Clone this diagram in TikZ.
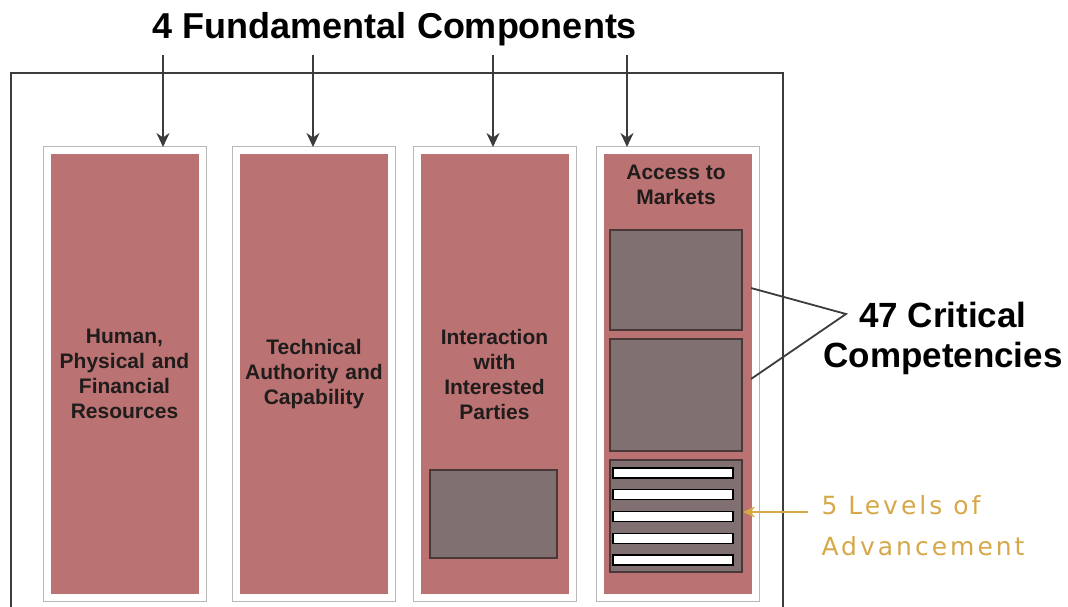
\documentclass[tikz,border=0pt]{standalone}
\usepackage{fontspec}
\setmainfont{Liberation Sans}
\newfontfamily\lvlfont[LetterSpace=12]{DejaVu Sans}
\usetikzlibrary{positioning,arrows.meta}
\definecolor{colfill}{RGB}{186,114,114}
\definecolor{boxfill}{RGB}{128,112,113}
\definecolor{boxedge}{RGB}{72,56,56}
\definecolor{txtdark}{RGB}{32,28,28}
\definecolor{lvlgold}{RGB}{214,168,72}
\definecolor{framegray}{RGB}{60,60,60}

\begin{document}
\begin{tikzpicture}[x=1pt,y=-1pt,
    col/.style={fill=colfill, draw=white, line width=7pt,
        preaction={draw=black!28, line width=9pt},
        minimum width=155pt, minimum height=447pt, inner sep=0pt,
        text width=148pt, align=center, text=txtdark,
        font=\bfseries\fontsize{21}{25}\selectfont},
    cbox/.style={fill=boxfill, draw=boxedge, line width=1.8pt, inner sep=0pt},
    bar/.style={fill=white, draw=black, line width=1.4pt, inner sep=0pt,
        minimum width=120pt, minimum height=10pt},
    fundarrow/.style={draw=framegray, line width=2.6pt,
        -{Stealth[length=14pt,width=13pt]}},
    pointer/.style={draw=framegray, line width=1.8pt},
    goldarrow/.style={draw=lvlgold, line width=2.4pt,
        -{Stealth[length=12pt,width=11pt]}}]
        \useasboundingbox (0,0) rectangle (1068,607);

        \draw[framegray, line width=1.2pt] (11,607) -- (11,73) -- (783,73) -- (783,607);

        \node[font=\bfseries\fontsize{36}{40}\selectfont] (T) at (395,29)
        {4 Fundamental Components};

        \begin{scope}
            \node[col] (C1) at (124.5,374)
            {Human,\\Physical and\\Financial\\Resources};
            \node[col] (C2) at (314,374)
            {Technical\\Authority and\\Capability};
            \node[col] (C3) at (494.5,374)
            {Interaction\\with\\Interested\\Parties};
            \node[col] (C4) at (677.5,374)
            {};
            \node[font=\bfseries\fontsize{21}{25}\selectfont, text=txtdark, align=center] (C4t) at (676,185)
            {Access to\\Markets};
        \end{scope}

        \begin{scope}
            \node[cbox, minimum width=127pt, minimum height=88pt] (G3) at (493.5,514) {};
            \node[cbox, minimum width=132pt, minimum height=100pt] (G1) at (676,280) {};
            \node[cbox, minimum width=132pt, minimum height=112pt, below=7pt of G1] (G2) {};
            \node[cbox, minimum width=132pt, minimum height=112pt, below=7pt of G2] (B) {};
            \foreach \i in {0,...,4}
                \node[bar] (L\i) at (673,473+21.75*\i) {};
        \end{scope}

        \foreach \i/\x in {1/163,2/313,3/493,4/627}{
            \coordinate (s\i) at (\x,55);
            \draw[fundarrow] (s\i) -- (s\i |- C\i.north);
        }

        \node[font=\bfseries\fontsize{35}{40}\selectfont, align=center] (K) at (943,338)
        {47 Critical\\Competencies};
        \coordinate (V) at (846,314);
        \coordinate (p1) at (751,288);
        \coordinate (p2) at (751,379);
        \draw[pointer] (p1) -- (V) -- (p2);

        \node[font=\lvlfont\fontsize{25}{41}\selectfont, text=lvlgold, align=left, anchor=west] (LV) at (818,526)
        {5 Levels of\\Advancement};
        \coordinate (g) at (808,512);
        \draw[goldarrow] (g) -- (B.east |- g);

        \end{tikzpicture}
\end{document}
